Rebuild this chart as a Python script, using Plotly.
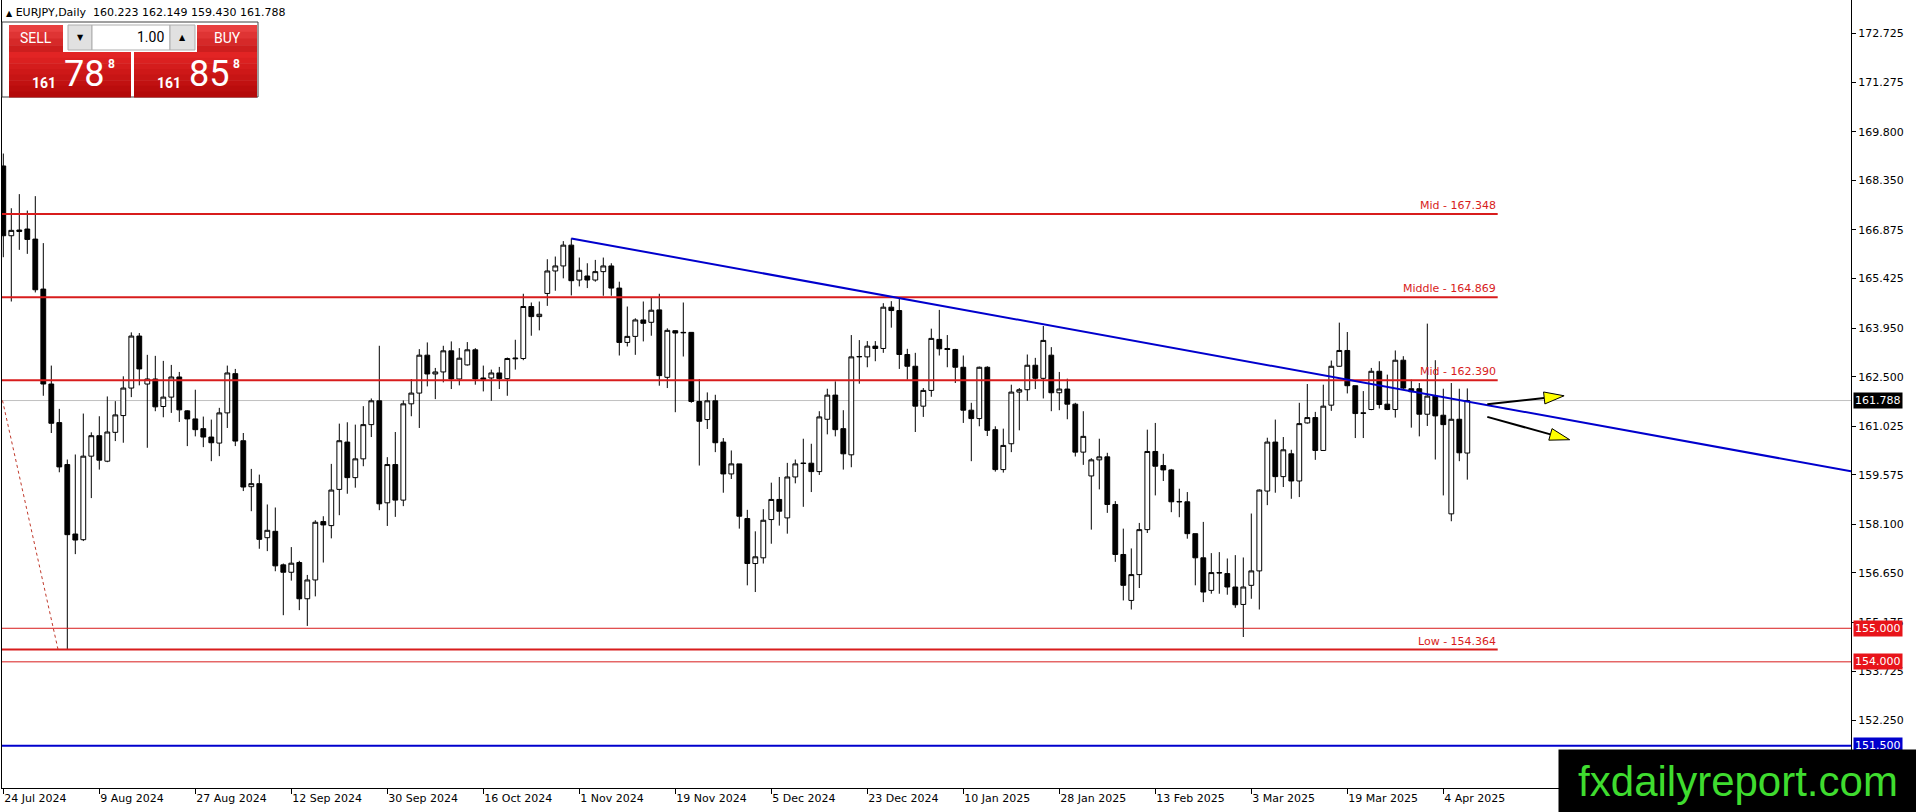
"""
EURJPY Daily - MT4 style chart rebuilt in Plotly
"""
import math
import pandas as pd
import plotly.graph_objects as go

# ========== data ==========
SYMBOL = "EURJPY,Daily"
START_DATE = "2024-07-24"
END_DATE = "2025-04-09"
HOLIDAYS = ["2024-12-25", "2025-01-01"]

OPEN = [168.78, 166.70, 166.87, 166.90, 166.60, 165.11, 162.28, 161.13, 159.88, 157.81,
        157.64, 160.13, 160.74, 159.98, 160.84, 161.34, 162.16, 163.71, 162.28, 162.43,
        161.61, 161.89, 162.49, 161.48, 161.24, 160.95, 160.70, 160.52, 161.42, 162.59,
        160.59, 159.22, 159.31, 157.70, 157.89, 156.89, 156.67, 156.96, 155.88, 156.44,
        158.18, 158.06, 159.14, 160.55, 159.49, 160.05, 161.07, 161.78, 158.74, 159.88,
        158.82, 161.69, 162.01, 163.14, 162.58, 162.64, 163.27, 162.43, 162.85, 163.30,
        162.46, 162.46, 162.61, 162.44, 163.03, 163.04, 164.59, 164.29, 164.98, 165.65,
        165.80, 166.42, 165.38, 165.50, 165.38, 165.63, 165.80, 165.14, 163.52, 163.70,
        164.19, 164.12, 164.49, 162.48, 163.87, 163.82, 163.82, 161.76, 161.22, 161.78,
        160.55, 159.60, 159.90, 158.27, 156.93, 157.10, 158.24, 158.84, 158.29, 159.51,
        159.91, 159.92, 159.67, 161.23, 161.95, 160.95, 160.17, 163.09, 163.09, 163.41,
        163.34, 164.57, 164.47, 163.16, 162.81, 161.62, 162.09, 163.61, 163.34, 163.31,
        162.78, 161.50, 161.25, 162.78, 160.92, 159.73, 160.50, 162.04, 162.11, 162.84,
        162.45, 163.14, 162.02, 162.13, 161.68, 160.25, 159.54, 160.02, 160.11, 158.69,
        157.20, 155.83, 156.60, 157.94, 160.27, 159.85, 159.72, 158.78, 158.77, 157.82,
        157.10, 156.13, 156.66, 156.63, 156.23, 155.71, 156.28, 156.71, 159.09, 160.55,
        159.52, 160.20, 159.39, 161.12, 161.28, 160.30, 161.65, 162.81, 163.28, 162.23,
        161.42, 161.52, 162.66, 161.68, 161.52, 162.99, 162.14, 162.14, 161.38, 161.92,
        161.35, 158.41, 161.23, 160.223]
HIGH = [169.15, 167.52, 167.94, 167.45, 167.88, 166.48, 162.83, 161.54, 160.03, 160.18,
        161.40, 160.84, 161.32, 161.91, 161.77, 162.51, 163.82, 163.80, 163.15, 163.12,
        162.97, 162.85, 162.64, 161.50, 162.11, 161.31, 161.22, 161.57, 162.83, 162.73,
        160.82, 159.75, 159.58, 158.69, 158.60, 156.93, 157.42, 157.01, 156.59, 158.22,
        158.34, 159.90, 161.10, 161.14, 161.07, 161.62, 161.85, 163.42, 160.10, 160.85,
        161.79, 162.43, 163.32, 163.52, 162.76, 163.42, 163.55, 163.35, 163.53, 163.35,
        162.83, 162.71, 162.79, 163.07, 163.60, 164.97, 164.71, 164.74, 166.00, 166.08,
        166.54, 166.62, 166.05, 165.88, 165.98, 166.05, 165.88, 165.33, 164.59, 164.24,
        164.74, 164.86, 164.97, 163.94, 163.88, 164.71, 163.82, 162.43, 162.03, 161.96,
        160.67, 160.30, 159.90, 158.53, 157.89, 158.55, 159.34, 159.51, 159.93, 160.03,
        160.65, 160.50, 161.47, 162.14, 162.36, 161.50, 163.74, 163.59, 163.56, 163.56,
        164.69, 164.75, 164.87, 163.33, 163.21, 162.16, 163.93, 164.49, 163.74, 163.33,
        163.13, 161.72, 162.80, 162.81, 161.02, 160.95, 162.26, 162.16, 163.16, 163.06,
        164.01, 163.38, 162.64, 162.44, 161.72, 161.47, 160.07, 160.65, 160.23, 158.79,
        157.97, 157.38, 158.14, 160.92, 161.12, 160.20, 159.75, 159.16, 159.06, 157.82,
        158.17, 157.24, 157.27, 157.08, 157.18, 157.11, 158.42, 159.14, 160.68, 161.22,
        160.70, 160.32, 161.72, 162.28, 161.45, 162.26, 162.98, 164.11, 163.83, 162.23,
        162.07, 162.76, 162.96, 162.56, 163.28, 163.11, 162.41, 162.31, 164.08, 162.99,
        162.14, 162.31, 162.14, 162.149]
LOW = [166.06, 164.74, 166.28, 166.16, 165.01, 161.93, 160.82, 159.65, 154.364, 157.21,
       157.60, 158.88, 159.73, 159.95, 160.58, 160.53, 161.89, 162.24, 160.38, 161.47,
       161.29, 161.42, 161.15, 160.43, 160.72, 160.40, 159.98, 160.13, 160.97, 160.43,
       159.09, 158.49, 157.37, 157.30, 156.70, 155.39, 156.42, 155.54, 155.07, 155.95,
       156.96, 157.68, 158.37, 159.01, 159.19, 159.83, 160.70, 158.52, 158.05, 158.32,
       158.64, 161.32, 160.97, 162.21, 161.83, 162.33, 162.13, 162.24, 162.83, 162.26,
       162.06, 161.78, 162.13, 161.93, 162.71, 162.99, 163.72, 163.88, 164.61, 165.06,
       165.43, 164.92, 165.19, 165.14, 165.33, 164.91, 164.91, 163.13, 163.40, 163.15,
       163.55, 163.72, 162.23, 162.16, 161.44, 163.10, 161.72, 159.85, 160.94, 160.25,
       159.04, 159.45, 157.97, 156.28, 156.08, 156.93, 157.52, 158.06, 157.82, 159.32,
       158.62, 159.06, 159.57, 160.78, 160.72, 159.73, 159.80, 162.29, 162.78, 162.96,
       163.21, 163.96, 162.73, 162.41, 160.85, 161.30, 161.90, 163.13, 162.78, 162.31,
       161.12, 159.98, 161.02, 160.73, 159.67, 159.64, 160.25, 160.90, 161.78, 162.13,
       161.85, 161.47, 161.50, 161.23, 160.12, 159.87, 157.94, 159.14, 158.44, 156.98,
       155.83, 155.56, 156.20, 157.84, 158.96, 159.39, 158.46, 158.31, 157.67, 156.28,
       155.78, 156.03, 156.03, 156.00, 155.61, 154.74, 155.88, 155.56, 158.67, 159.04,
       159.21, 158.86, 158.91, 161.10, 160.02, 160.30, 161.48, 162.80, 162.00, 160.67,
       160.67, 161.50, 161.55, 161.50, 161.28, 162.10, 160.98, 160.72, 161.03, 160.03,
       158.96, 158.19, 159.98, 159.430]
CLOSE = [166.70, 166.86, 166.83, 166.59, 165.09, 162.28, 161.11, 159.81, 157.79, 157.63,
         160.13, 160.74, 160.01, 160.85, 161.36, 162.16, 163.71, 162.73, 162.43, 161.60,
         161.89, 162.49, 161.51, 161.24, 160.92, 160.70, 160.53, 161.42, 162.61, 160.58,
         159.21, 159.31, 157.65, 157.92, 156.86, 156.67, 156.94, 155.88, 156.44, 158.16,
         158.08, 159.12, 160.59, 159.49, 160.05, 161.07, 161.78, 158.71, 159.88, 158.82,
         161.69, 162.01, 163.14, 162.58, 162.64, 163.27, 162.43, 163.05, 163.30, 162.43,
         162.42, 162.61, 162.44, 163.04, 163.05, 164.59, 164.29, 164.36, 165.65, 165.80,
         166.42, 165.36, 165.67, 165.38, 165.63, 165.80, 165.14, 163.52, 163.70, 164.19,
         164.09, 164.48, 162.53, 163.88, 163.80, 163.81, 161.76, 161.17, 161.78, 160.53,
         159.60, 159.90, 158.34, 156.93, 157.13, 158.22, 158.84, 158.49, 159.51, 159.90,
         159.92, 159.67, 161.30, 161.95, 160.92, 160.20, 163.09, 163.10, 163.41, 163.34,
         164.57, 164.47, 163.16, 162.81, 161.62, 162.09, 163.64, 163.33, 163.31, 162.78,
         161.50, 161.25, 162.78, 160.90, 159.73, 160.45, 162.04, 162.11, 162.84, 162.45,
         163.58, 162.02, 162.13, 161.68, 160.25, 160.72, 160.02, 160.11, 158.69, 157.20,
         156.28, 156.60, 157.94, 160.27, 159.83, 159.72, 158.77, 158.77, 157.82, 157.10,
         156.08, 156.66, 156.65, 156.23, 155.70, 156.23, 156.71, 159.12, 160.55, 159.52,
         160.32, 159.39, 161.10, 161.28, 160.30, 161.62, 162.81, 163.28, 162.23, 161.40,
         161.41, 162.66, 161.67, 161.52, 162.99, 162.16, 162.05, 161.38, 161.92, 161.33,
         161.07, 161.23, 160.23, 161.788]

TICK_DATES = ["2024-07-24", "2024-08-09", "2024-08-27", "2024-09-12", "2024-09-30",
              "2024-10-16", "2024-11-01", "2024-11-19", "2024-12-05", "2024-12-23",
              "2025-01-10", "2025-01-28", "2025-02-13", "2025-03-03", "2025-03-19",
              "2025-04-04"]
TICK_LABELS = ["24 Jul 2024", "9 Aug 2024", "27 Aug 2024", "12 Sep 2024", "30 Sep 2024",
               "16 Oct 2024", "1 Nov 2024", "19 Nov 2024", "5 Dec 2024", "23 Dec 2024",
               "10 Jan 2025", "28 Jan 2025", "13 Feb 2025", "3 Mar 2025", "19 Mar 2025",
               "4 Apr 2025"]
PRICE_TICKS = [172.725, 171.275, 169.800, 168.350, 166.875, 165.425, 163.950, 162.500,
               161.025, 159.575, 158.100, 156.650, 155.175, 153.725, 152.250]

LEVEL_NAMES = ["Mid", "Middle", "Mid", "Low"]
LEVEL_PRICES = [167.348, 164.869, 162.390, 154.364]
LEVEL_END_BAR = 186.8
SUPPORT_PRICES = [155.000, 154.000]
BLUE_LEVEL = 151.500
ASK = 161.858

TREND_BARS = [71, 183]
TREND_PRICES = [166.62, 161.76]
DOTTED_BARS = [-0.1, 6.85]
DOTTED_PRICES = [161.79, 154.36]
# (bar0, price0, bar1, price1)
ARROWS = [(185.5, 161.68, 195.1, 161.93),
          (185.5, 161.30, 195.8, 160.62)]

WATERMARK = "fxdailyreport.com"

# ========== layout geometry (pixels) ==========
W, H = 1916, 812
ML, MR, MT, MB = 2, 65, 0, 24
PW, PH = W - ML - MR, H - MT - MB
BAR_PX = 8.0
FIRST_BAR_PX = 3.3
YEN_PX = 33.55
REF_PRICE, REF_PX = 167.348, 214.0

x_lo = (ML - FIRST_BAR_PX) / BAR_PX
x_hi = x_lo + PW / BAR_PX
y_hi = REF_PRICE + (REF_PX - MT) / YEN_PX
y_lo = y_hi - PH / YEN_PX

RED = "#d81c1c"
BLUE = "#0000cd"
FONT = "DejaVu Sans"


def px_x(px):
    return (px - ML) / PW


def px_y(py):
    return 1 - (py - MT) / PH


# ========== bars ==========
dates = [d for d in pd.bdate_range(START_DATE, END_DATE).strftime("%Y-%m-%d") if d not in HOLIDAYS]
assert len(dates) == len(OPEN) == len(HIGH) == len(LOW) == len(CLOSE)
bars = list(range(len(dates)))
tick_pos = [dates.index(d) for d in TICK_DATES]

fig = go.Figure()
fig.add_trace(go.Candlestick(
    x=bars, open=OPEN, high=HIGH, low=LOW, close=CLOSE,
    increasing=dict(line=dict(color="black", width=1), fillcolor="white"),
    decreasing=dict(line=dict(color="black", width=1), fillcolor="black"),
    whiskerwidth=0,
    customdata=dates,
    showlegend=False,
    name=SYMBOL,
))

shapes = []
annotations = []

# ---- horizontal levels with labels ----
for name, price in zip(LEVEL_NAMES, LEVEL_PRICES):
    shapes.append(dict(type="line", xref="x", yref="y", x0=x_lo - 1, x1=LEVEL_END_BAR,
                       y0=price, y1=price, line=dict(color=RED, width=2)))
    annotations.append(dict(x=LEVEL_END_BAR, y=price, xref="x", yref="y", text=f"{name} - {price:.3f}",
                            showarrow=False, xanchor="right", yanchor="bottom", yshift=0,
                            font=dict(family=FONT, size=11, color=RED)))

for price in SUPPORT_PRICES:
    shapes.append(dict(type="line", xref="paper", yref="y", x0=0, x1=1, y0=price, y1=price,
                       line=dict(color=RED, width=1)))
shapes.append(dict(type="line", xref="paper", yref="y", x0=0, x1=1, y0=BLUE_LEVEL, y1=BLUE_LEVEL,
                   line=dict(color=BLUE, width=2)))
bid = CLOSE[-1]
shapes.append(dict(type="line", xref="paper", yref="y", x0=0, x1=1, y0=bid, y1=bid,
                   line=dict(color="#c0c0c0", width=1), layer="below"))

# ---- trendline (ray to the right edge) ----
slope = (TREND_PRICES[1] - TREND_PRICES[0]) / (TREND_BARS[1] - TREND_BARS[0])
shapes.append(dict(type="line", xref="x", yref="y", x0=TREND_BARS[0], y0=TREND_PRICES[0],
                   x1=x_hi, y1=TREND_PRICES[0] + slope * (x_hi - TREND_BARS[0]),
                   line=dict(color=BLUE, width=2)))

# ---- dotted line at the left ----
shapes.append(dict(type="line", xref="x", yref="y", x0=DOTTED_BARS[0], y0=DOTTED_PRICES[0],
                   x1=DOTTED_BARS[1], y1=DOTTED_PRICES[1],
                   line=dict(color="#c0392b", width=1, dash="dot")))

# ---- arrows: black shaft + yellow head ----
for bx0, py0, bx1, py1 in ARROWS:
    dx = (bx1 - bx0) * BAR_PX
    dy = (py1 - py0) * YEN_PX
    n = math.hypot(dx, dy)
    ux, uy = dx / n, dy / n
    L, w = 20.0, 6.0
    base_x, base_y = bx1 - ux * L / BAR_PX, py1 - uy * L / YEN_PX
    s1 = (base_x - uy * w / BAR_PX, base_y + ux * w / YEN_PX)
    s2 = (base_x + uy * w / BAR_PX, base_y - ux * w / YEN_PX)
    shapes.append(dict(type="line", xref="x", yref="y", x0=bx0, y0=py0, x1=base_x, y1=base_y,
                       line=dict(color="black", width=2)))
    shapes.append(dict(type="path", xref="x", yref="y",
                       path=f"M {bx1},{py1} L {s1[0]},{s1[1]} L {s2[0]},{s2[1]} Z",
                       fillcolor="#ffff00", line=dict(color="black", width=1)))


# ---- one-click trading panel ----
def rect(x0, y0, x1, y1, fill, line=None):
    shapes.append(dict(type="rect", xref="paper", yref="paper",
                       x0=px_x(x0), x1=px_x(x1), y0=px_y(y0), y1=px_y(y1),
                       fillcolor=fill, line=dict(color=line or fill, width=1 if line else 0)))


def gradient_rect(x0, y0, x1, y1, top, bottom, steps=8):
    def mix(a, b, t):
        return "#%02x%02x%02x" % tuple(int(a[i] + (b[i] - a[i]) * t) for i in range(3))
    h = (y1 - y0) / steps
    for k in range(steps):
        rect(x0, y0 + k * h, x1, y0 + (k + 1) * h + 0.5, mix(top, bottom, k / (steps - 1)))


def label(x, y, text, size, color="white", anchor="center", family="Roboto", bold=False):
    if bold:
        text = f"<b>{text}</b>"
    annotations.append(dict(x=px_x(x), y=px_y(y), xref="paper", yref="paper", text=text,
                            showarrow=False, xanchor=anchor, yanchor="middle",
                            font=dict(family=family, size=size, color=color)))


rect(2, 22, 258, 97, "white", "#404040")
gradient_rect(9, 25, 63, 52, (232, 64, 64), (205, 30, 30), 4)
gradient_rect(197, 25, 257, 52, (232, 64, 64), (205, 30, 30), 4)
gradient_rect(9, 52, 131, 97, (226, 36, 36), (180, 10, 10))
gradient_rect(134, 52, 257, 97, (226, 36, 36), (180, 10, 10))
rect(68, 25, 92, 50, "#e1e1e1", "#adadad")
rect(92, 25, 170, 50, "white", "#adadad")
rect(170, 25, 195, 50, "#e1e1e1", "#adadad")
label(36, 38, "SELL", 14)
label(227, 38, "BUY", 14)
label(80, 38, "▼", 8, "black", family=FONT)
label(182, 37, "▲", 8, "black", family=FONT)
label(166, 37, "1.00", 14, "black", anchor="right")

for x_small, price in ((30, bid), (155, ASK)):
    s = f"{price:.3f}"
    label(x_small, 83, s[:3], 14, bold=True, anchor="left")
    label(x_small + 32, 74, s[4:6], 36, anchor="left")
    label(x_small + 76, 64, s[6], 12, bold=True, anchor="left")


# ---- right-axis price boxes ----
def axis_box(price, bg, fg="white"):
    annotations.append(dict(x=1, y=price, xref="paper", yref="y", text=f"{price:.3f}",
                            showarrow=False, xanchor="left", yanchor="middle", xshift=2,
                            bgcolor=bg, borderpad=1,
                            font=dict(family=FONT, size=11, color=fg)))


axis_box(bid, "black")
for price in SUPPORT_PRICES:
    axis_box(price, "#e8141a")
axis_box(BLUE_LEVEL, BLUE)

# ---- watermark (drawn last so it covers the bottom-right corner) ----
annotations.append(dict(x=px_x(1558), y=px_y(749), xref="paper", yref="paper",
                        text=WATERMARK, showarrow=False, xanchor="left", yanchor="top",
                        width=358, height=63, align="center", valign="middle",
                        bgcolor="black", borderpad=0,
                        font=dict(family="Liberation Sans", size=42, color="#3fdc2f")))

# ---- header ----
header = (f"<span style='font-size:8px'>▲</span> {SYMBOL}\u00a0\u00a0"
          f"{OPEN[-1]:.3f} {HIGH[-1]:.3f} {LOW[-1]:.3f} {CLOSE[-1]:.3f}")
annotations.append(dict(x=px_x(4), y=px_y(13), xref="paper", yref="paper", text=header,
                        showarrow=False, xanchor="left", yanchor="middle",
                        font=dict(family=FONT, size=11, color="black")))

fig.update_layout(
    width=W, height=H,
    margin=dict(l=ML, r=MR, t=MT, b=MB),
    paper_bgcolor="white", plot_bgcolor="white",
    font=dict(family=FONT, size=11, color="black"),
    boxgap=0.4, boxgroupgap=0,
    showlegend=False,
    shapes=shapes,
    annotations=annotations,
    xaxis=dict(range=[x_lo, x_hi], rangeslider=dict(visible=False),
               tickvals=tick_pos, ticktext=TICK_LABELS, ticklabelposition="outside right",
               ticks="outside", ticklen=5, tickcolor="black",
               showline=True, linecolor="black", linewidth=1,
               showgrid=False, zeroline=False,
               tickfont=dict(family=FONT, size=11, color="black")),
    yaxis=dict(range=[y_lo, y_hi], side="right",
               tickvals=PRICE_TICKS, ticktext=[f"{v:.3f}" for v in PRICE_TICKS],
               ticks="outside", ticklen=4, tickcolor="black",
               showline=True, linecolor="black", linewidth=1, mirror=True,
               showgrid=False, zeroline=False,
               tickfont=dict(family=FONT, size=11, color="black")),
)

fig.write_html("out.html", config={"displayModeBar": False},
               post_script="document.body.style.margin='0';")
